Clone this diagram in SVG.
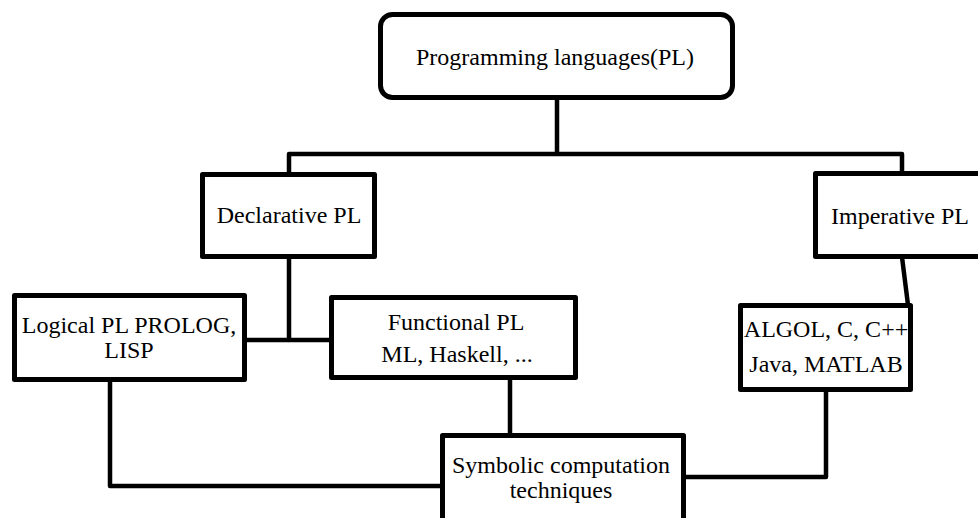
<svg xmlns="http://www.w3.org/2000/svg" width="978" height="518" viewBox="0 0 978 518" font-family="'Liberation Serif', 'DejaVu Serif', serif">
<style>
.box{fill:#fff;stroke:#000;stroke-width:5;stroke-linejoin:round}
.ln{fill:none;stroke:#000;stroke-width:4.5;stroke-linejoin:round}
.t{font-family:'Liberation Serif','DejaVu Serif',serif;font-size:24px;fill:#000;text-anchor:middle}
</style>
<rect width="978" height="518" fill="#fff"/>
<g id="connectors">
<path class="ln" d="M557,98 V154 H289 V174"/>
<path class="ln" d="M557,154 H902 V173"/>
<path class="ln" d="M289,257 V340 H331"/>
<path class="ln" d="M245,340 H289"/>
<path class="ln" d="M110,380 V486 H442"/>
<path class="ln" d="M510,378 V435"/>
<path class="ln" d="M826,390 V477 H684"/>
<path class="ln" d="M902,257 L908,305"/>
</g>
<g id="n-pl">
<rect class="box" x="380.5" y="14.5" width="352" height="83" rx="12"/>
<text class="t" x="555" y="65">Programming languages(PL)</text>
</g>
<g id="n-declarative">
<rect class="box" x="202.5" y="174.5" width="172" height="82"/>
<text class="t" x="289" y="223">Declarative PL</text>
</g>
<g id="n-imperative">
<rect class="box" x="815.5" y="173.5" width="175" height="83"/>
<text class="t" x="900" y="224">Imperative PL</text>
</g>
<g id="n-logical">
<rect class="box" x="14.5" y="295.5" width="230" height="84"/>
<text class="t" x="129" y="333">Logical PL PROLOG,</text>
<text class="t" x="129" y="358">LISP</text>
</g>
<g id="n-functional">
<rect class="box" x="331.5" y="297.5" width="244" height="80"/>
<text class="t" x="456" y="330">Functional PL</text>
<text class="t" x="457" y="362">ML, Haskell, ...</text>
</g>
<g id="n-algol">
<rect class="box" x="740.5" y="305.5" width="170" height="84"/>
<text class="t" x="826" y="337">ALGOL, C, C++</text>
<text class="t" x="826" y="372">Java, MATLAB</text>
</g>
<g id="n-symbolic">
<rect class="box" x="442.5" y="435.5" width="241" height="100"/>
<text class="t" x="561" y="473">Symbolic computation</text>
<text class="t" x="561" y="498">techniques</text>
</g>
</svg>
